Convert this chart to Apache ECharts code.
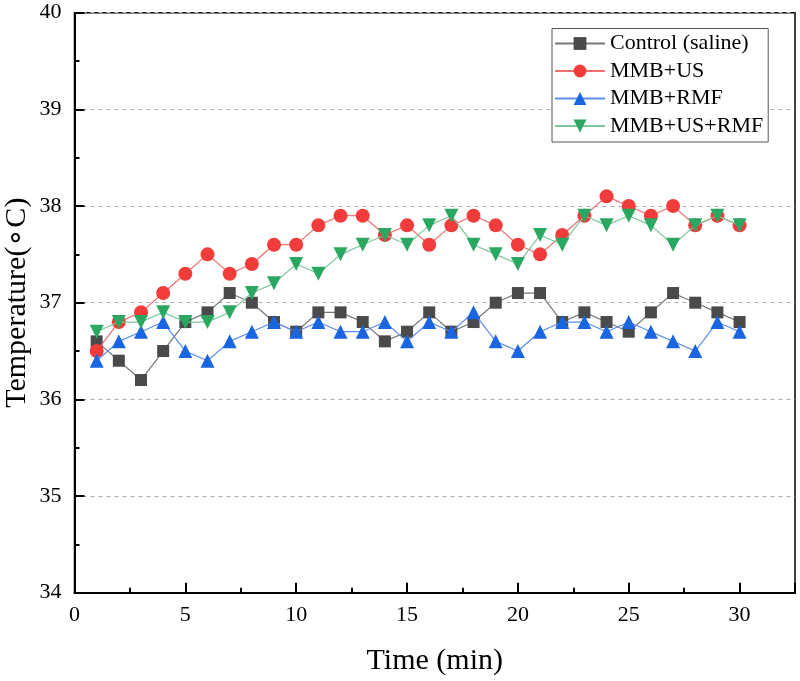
<!DOCTYPE html>
<html>
<head>
<meta charset="utf-8">
<script src="https://cdn.jsdelivr.net/npm/echarts@6/dist/echarts.min.js"></script>
<style>html,body{margin:0;padding:0;background:#fff}#c{width:800px;height:681px}</style>
</head>
<body>
<div id="c"></div>
<script>
const times = [1,2,3,4,5,6,7,8,9,10,11,12,13,14,15,16,17,18,19,20,21,22,23,24,25,26,27,28,29,30];
const control = [36.6,36.4,36.2,36.5,36.8,36.9,37.1,37.0,36.8,36.7,36.9,36.9,36.8,36.6,36.7,36.9,36.7,36.8,37.0,37.1,37.1,36.8,36.9,36.8,36.7,36.9,37.1,37.0,36.9,36.8];
const mmbUS = [36.5,36.8,36.9,37.1,37.3,37.5,37.3,37.4,37.6,37.6,37.8,37.9,37.9,37.7,37.8,37.6,37.8,37.9,37.8,37.6,37.5,37.7,37.9,38.1,38.0,37.9,38.0,37.8,37.9,37.8];
const mmbRMF = [36.4,36.6,36.7,36.8,36.5,36.4,36.6,36.7,36.8,36.7,36.8,36.7,36.7,36.8,36.6,36.8,36.7,36.9,36.6,36.5,36.7,36.8,36.8,36.7,36.8,36.7,36.6,36.5,36.8,36.7];
const mmbUSRMF = [36.7,36.8,36.8,36.9,36.8,36.8,36.9,37.1,37.2,37.4,37.3,37.5,37.6,37.7,37.6,37.8,37.9,37.6,37.5,37.4,37.7,37.6,37.9,37.8,37.9,37.8,37.6,37.8,37.9,37.8];
const xTickLabels = [0,5,10,15,20,25,30];
const seriesNames = ['Control (saline)','MMB+US','MMB+RMF','MMB+US+RMF'];

const font = 'Liberation Serif';
const pair = arr => times.map((t,i)=>[t,arr[i]]);

const chart = echarts.init(document.getElementById('c'), null, {renderer:'canvas'});
chart.setOption({
  animation:false,
  backgroundColor:'#fff',
  grid:{left:74.5,right:5,top:12.7,bottom:88.3,show:true,borderColor:'#000',borderWidth:1.5,
        containLabel:false,outerBoundsMode:'none'},
  legend:{
    orient:'vertical', left:552, top:28.5,
    backgroundColor:'#fff',
    borderColor:'#555', borderWidth:1,
    padding:[4,5,5,2],
    itemWidth:50, itemHeight:16, itemGap:5.5,
    textStyle:{fontFamily:font,fontSize:22,color:'#000',lineHeight:22},
    data:seriesNames
  },
  xAxis:[{
    type:'value', min:0, max:32.5, interval:5,
    axisLine:{show:true,lineStyle:{color:'#000',width:2}},
    axisTick:{show:true,inside:true,length:10,lineStyle:{color:'#000',width:2}},
    axisLabel:{show:true,fontFamily:font,fontSize:22,color:'#000',margin:12,
      formatter:v => xTickLabels.indexOf(v) >= 0 ? String(v) : ''},
    splitLine:{show:false},
    name:'Time (min)', nameLocation:'middle', nameGap:53, nameMoveOverlap:false,
    nameTextStyle:{fontFamily:font,fontSize:30,color:'#000'}
  },{
    type:'value', min:0, max:32.5, interval:2.5, position:'bottom',
    axisLine:{show:false},
    axisTick:{show:true,inside:true,length:5,lineStyle:{color:'#000',width:2}},
    axisLabel:{show:false},
    splitLine:{show:false}
  }],
  yAxis:{
    type:'value', min:34, max:40, interval:1,
    axisLine:{show:true,lineStyle:{color:'#000',width:2}},
    axisTick:{show:true,inside:true,length:10,lineStyle:{color:'#000',width:2}},
    minorTick:{show:true,splitNumber:2,length:5,lineStyle:{color:'#000',width:2}},
    axisLabel:{fontFamily:font,fontSize:22,color:'#000',margin:13},
    splitLine:{show:true,lineStyle:{color:'#b0b0b0',type:[4,4],width:1}},
    name:'Temperature(\u2218C)', nameLocation:'middle', nameGap:42, nameMoveOverlap:false,
    nameTextStyle:{fontFamily:font,fontSize:30,color:'#000'}
  },
  series:[
    {name:seriesNames[0],type:'line',data:pair(control),symbol:'rect',symbolSize:12,
     itemStyle:{color:'#4a4a4a'},lineStyle:{color:'#777',width:1.2},z:2},
    {name:seriesNames[1],type:'line',data:pair(mmbUS),symbol:'circle',symbolSize:14,
     itemStyle:{color:'#f23c3c'},lineStyle:{color:'#f47070',width:1.2},z:3},
    {name:seriesNames[2],type:'line',data:pair(mmbRMF),symbol:'triangle',symbolSize:14,
     itemStyle:{color:'#1a66e0'},lineStyle:{color:'#5a8ee8',width:1.2},z:4},
    {name:seriesNames[3],type:'line',data:pair(mmbUSRMF),symbol:'triangle',symbolRotate:180,symbolSize:14,
     itemStyle:{color:'#2aa862'},lineStyle:{color:'#7cc89a',width:1.2},z:5}
  ]
});
</script>
</body>
</html>
